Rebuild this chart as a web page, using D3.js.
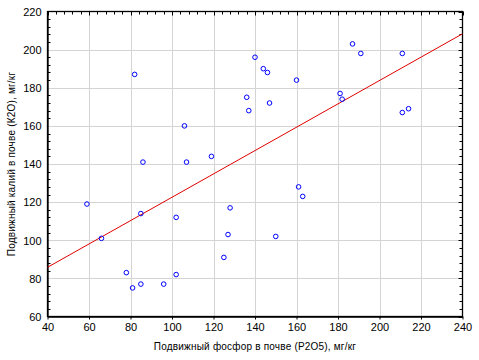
<!DOCTYPE html>
<html><head><meta charset="utf-8">
<script src="https://cdn.jsdelivr.net/npm/d3@7"></script>
<style>
html,body{margin:0;padding:0;background:#fff;}
text{font-family:"Liberation Sans",Arial,sans-serif;fill:#000;}
</style></head>
<body><svg id="c" width="479" height="360"></svg>
<script>
const phosphorus = [82,106,86,107,119,140,144,146,160,187,191,211,136,137,147,181,182,211,214,59,66,85,102,128,127,125,78,81,85,96,102,161,163,150];
const potassium  = [187,160,141,141,144,196,190,188,184,203,198,198,175,168,172,177,174,167,169,119,101,114,112,117,103,91,83,75,77,77,82,128,123,102];
const regression = [61.3, 0.6125]; // intercept, slope
const xTicks = [40,60,80,100,120,140,160,180,200,220,240];
const yTicks = [60,80,100,120,140,160,180,200,220];
const xTitle = "Подвижный фосфор в почве (P2O5), мг/кг";
const yTitle = "Подвижный калий в почве (К2О), мг/кг";

const svg = d3.select("#c");
const L = 47.5, R = 462.5, T = 11.5, B = 316.5;
const x = d3.scaleLinear().domain([40,240]).range([L,R]);
const y = d3.scaleLinear().domain([60,220]).range([B,T]);

// grid
svg.append("g").selectAll("line").data(xTicks.slice(1,-1)).join("line")
  .attr("x1",d=>Math.round(x(d))+0.5).attr("x2",d=>Math.round(x(d))+0.5)
  .attr("y1",T).attr("y2",B).attr("stroke","#d4d4d4").attr("stroke-width",1);
svg.append("g").selectAll("line").data(yTicks.slice(1,-1)).join("line")
  .attr("y1",d=>Math.round(y(d))+0.5).attr("y2",d=>Math.round(y(d))+0.5)
  .attr("x1",L).attr("x2",R).attr("stroke","#d4d4d4").attr("stroke-width",1);

// minor ticks
const minorX = d3.range(40,241,4), minorY = d3.range(60,221,4);
const mt = svg.append("g").attr("stroke","#000").attr("stroke-width",1);
minorX.forEach(v=>{
  const px = Math.round(x(v))+0.5;
  mt.append("line").attr("x1",px).attr("x2",px).attr("y1",T).attr("y2",T+(v%20===0?4:3));
});
minorY.forEach(v=>{
  const py = Math.round(y(v))+0.5;
  mt.append("line").attr("y1",py).attr("y2",py).attr("x1",L).attr("x2",L+(v%20===0?0:3));
  mt.append("line").attr("y1",py).attr("y2",py).attr("x1",R).attr("x2",R-(v%20===0?4:3));
});

// axes
const xa = svg.append("g").attr("transform",`translate(0,${B})`)
  .call(d3.axisBottom(x).tickValues(xTicks).tickSize(3).tickSizeOuter(0).tickPadding(4));
const ya = svg.append("g").attr("transform",`translate(${L},0)`)
  .call(d3.axisLeft(y).tickValues(yTicks).tickSize(0).tickSizeOuter(0).tickPadding(6));
[xa,ya].forEach(a=>{
  a.select(".domain").attr("stroke","#000").attr("stroke-width",1.3);
  a.selectAll("text").style("font-size","11px").style("font-family","'Liberation Sans',Arial,sans-serif").attr("fill","#000");
});
ya.selectAll(".tick text").attr("dy","0.35em");
// top/right frame
svg.append("rect").attr("x",L).attr("y",T).attr("width",R-L).attr("height",B-T)
  .attr("fill","none").attr("stroke","#000").attr("stroke-width",1.3);

// regression line
svg.append("line")
  .attr("x1",x(40)).attr("y1",y(regression[0]+regression[1]*40))
  .attr("x2",x(240)).attr("y2",y(regression[0]+regression[1]*240))
  .attr("stroke","#e00000").attr("stroke-width",1);

// points
svg.append("g").selectAll("circle").data(phosphorus.map((p,i)=>[p,potassium[i]])).join("circle")
  .attr("cx",d=>x(d[0])).attr("cy",d=>y(d[1])).attr("r",2.3)
  .attr("fill","none").attr("stroke","#0000ff").attr("stroke-width",1);

// titles
svg.append("text").attr("x",(L+R)/2).attr("y",350).attr("text-anchor","middle")
  .style("font-size","10px").style("letter-spacing","0.2px").text(xTitle);
svg.append("text").attr("transform",`translate(15,${(T+B)/2}) rotate(-90)`).attr("text-anchor","middle")
  .style("font-size","10px").style("letter-spacing","0.2px").text(yTitle);
</script></body></html>
